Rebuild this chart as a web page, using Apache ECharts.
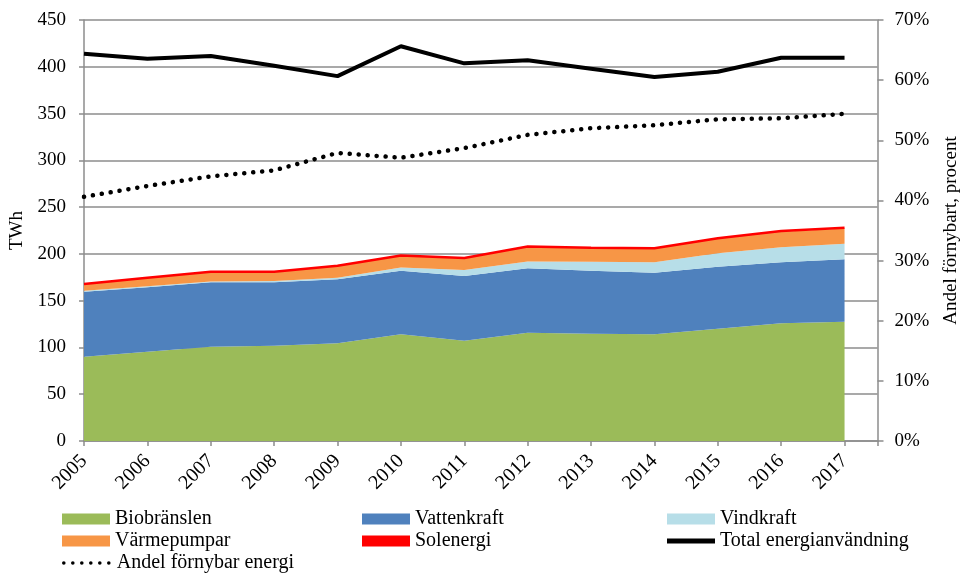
<!DOCTYPE html>
<html>
<head>
<meta charset="utf-8">
<script src="https://cdn.jsdelivr.net/npm/echarts@6/dist/echarts.min.js"></script>
<style>
  html, body { margin: 0; padding: 0; background: #fff; }
  #chart { width: 961px; height: 574px; }
</style>
</head>
<body>
<div id="chart"></div>
<script>
// data
const years = [2005, 2006, 2007, 2008, 2009, 2010, 2011, 2012, 2013, 2014, 2015, 2016, 2017]
const biobranslen = [90.1, 95.5, 100.8, 101.9, 104.4, 114.0, 107.2, 115.8, 114.7, 114.0, 120.1, 125.8, 127.5]
const vattenkraft = [69.5, 68.8, 68.8, 67.7, 68.4, 68.0, 69.2, 68.8, 67.3, 65.9, 66.2, 65.2, 66.7]
const vindkraft = [0.9, 1.0, 1.0, 1.4, 1.8, 3.4, 6.5, 7.2, 9.6, 11.1, 14.3, 16.0, 16.7]
const varmepumpar = [7.1, 9.1, 10.1, 9.7, 12.5, 12.5, 12.5, 15.6, 14.5, 14.5, 15.4, 16.7, 16.2]
const solenergi = [0.2, 0.2, 0.2, 0.3, 0.3, 0.3, 0.3, 0.4, 0.5, 0.5, 0.6, 0.7, 0.9]
const totalEnergi = [414, 408.6, 411.5, 401, 390, 422, 403.7, 407, 398, 389, 394.7, 409.7, 409.7]
const andelFornybar = [40.6, 42.4, 44.0, 45.0, 47.9, 47.1, 48.7, 50.9, 52.0, 52.5, 53.5, 53.65, 54.4]
const leftTicks = [0, 50, 100, 150, 200, 250, 300, 350, 400, 450]
const rightTicks = [0, 10, 20, 30, 40, 50, 60, 70]

const font = 'Liberation Serif'
const gridColor = '#8c8c8c'
// value first, year second, so the stack sums the values and not the years
const pairs = (vals) => vals.map((v, i) => [v, years[i]])

const area = (name, vals, color) => ({
  name,
  type: 'line',
  stack: 'fornybart',
  data: pairs(vals),
  encode: { x: 1, y: 0 },
  symbol: 'none',
  lineStyle: { width: 0 },
  areaStyle: { color, opacity: 1 },
  itemStyle: { color },
})

const legendText = { fontSize: 20, fontFamily: font, color: '#000' }
const legendItem = (name, left, top, extra) => Object.assign({
  left, top, padding: 0, itemWidth: 48, itemHeight: 11, textStyle: legendText,
  data: [{ name, icon: 'rect' }],
}, extra || {})

const option = {
  animation: false,
  textStyle: { fontFamily: font, color: '#000' },
  grid: { left: 84, right: 83.5, top: 20, bottom: 133, outerBoundsMode: 'none', containLabel: false },
  xAxis: {
    type: 'value',
    min: years[0],
    max: years[years.length - 1] + 0.52,
    interval: 1,
    axisLine: { lineStyle: { color: gridColor, width: 1.5 } },
    axisTick: { show: true, length: 5, lineStyle: { color: gridColor, width: 1.5 } },
    splitLine: { show: false },
    axisLabel: {
      rotate: 45,
      margin: 17,
      fontSize: 20,
      fontFamily: font,
      color: '#000',
      formatter: (v) => (Number.isInteger(v) ? String(v) : ''),
    },
  },
  yAxis: [
    {
      type: 'value',
      min: leftTicks[0],
      max: leftTicks[leftTicks.length - 1],
      interval: 50,
      name: 'TWh',
      nameLocation: 'middle',
      nameGap: 57,
      nameRotate: 90,
      nameMoveOverlap: false,
      nameTextStyle: { fontSize: 19, fontFamily: font, color: '#000' },
      axisLine: { show: true, lineStyle: { color: gridColor, width: 1.5 } },
      axisTick: { show: true, length: 5, lineStyle: { color: gridColor, width: 1.5 } },
      splitLine: { lineStyle: { color: gridColor, width: 1.5 } },
      axisLabel: { fontSize: 19, fontFamily: font, color: '#000', margin: 18 },
    },
    {
      type: 'value',
      position: 'right',
      min: rightTicks[0],
      max: rightTicks[rightTicks.length - 1],
      interval: 10,
      name: 'Andel förnybart, procent',
      nameLocation: 'middle',
      nameGap: 64,
      nameRotate: 90,
      nameMoveOverlap: false,
      nameTextStyle: { fontSize: 19, fontFamily: font, color: '#000' },
      axisLine: { show: true, lineStyle: { color: gridColor, width: 1.5 } },
      axisTick: { show: true, length: 6, lineStyle: { color: gridColor, width: 1.5 } },
      splitLine: { show: false },
      axisLabel: { fontSize: 19, fontFamily: font, color: '#000', margin: 17, formatter: '{value}%' },
    },
  ],
  legend: [
    legendItem('Biobränslen', 62, 509),
    legendItem('Vattenkraft', 362, 509),
    legendItem('Vindkraft', 667, 509),
    legendItem('Värmepumpar', 62, 531),
    legendItem('Solenergi', 362, 531),
    legendItem('Total energianvändning', 667, 531, { itemHeight: 5 }),
    {
      left: 62, top: 553, padding: 0, itemWidth: 48, itemHeight: 11, textStyle: legendText,
      data: [{ name: 'Andel förnybar energi', itemStyle: { opacity: 0 }, lineStyle: { width: 3.5 } }],
    },
  ],
  series: [
    area('Biobränslen', biobranslen, '#9BBB59'),
    area('Vattenkraft', vattenkraft, '#4F81BD'),
    area('Vindkraft', vindkraft, '#B7DEE8'),
    area('Värmepumpar', varmepumpar, '#F79646'),
    {
      name: 'Solenergi',
      type: 'line',
      stack: 'fornybart',
      data: pairs(solenergi),
      encode: { x: 1, y: 0 },
      symbol: 'none',
      lineStyle: { color: '#FF0000', width: 2.5 },
      areaStyle: { color: '#FF0000', opacity: 1 },
      itemStyle: { color: '#FF0000' },
    },
    {
      name: 'Total energianvändning',
      type: 'line',
      data: pairs(totalEnergi),
      encode: { x: 1, y: 0 },
      symbol: 'none',
      lineStyle: { color: '#000', width: 4 },
      itemStyle: { color: '#000' },
    },
    {
      name: 'Andel förnybar energi',
      type: 'line',
      yAxisIndex: 1,
      data: pairs(andelFornybar),
      encode: { x: 1, y: 0 },
      symbol: 'none',
      lineStyle: { color: '#000', width: 4.5, type: [0.1, 8.9], cap: 'round' },
      itemStyle: { color: '#000' },
    },
  ],
}

const chart = echarts.init(document.getElementById('chart'))
chart.setOption(option)
window.onresize = function () {
  chart.resize()
}
</script>
</body>
</html>
